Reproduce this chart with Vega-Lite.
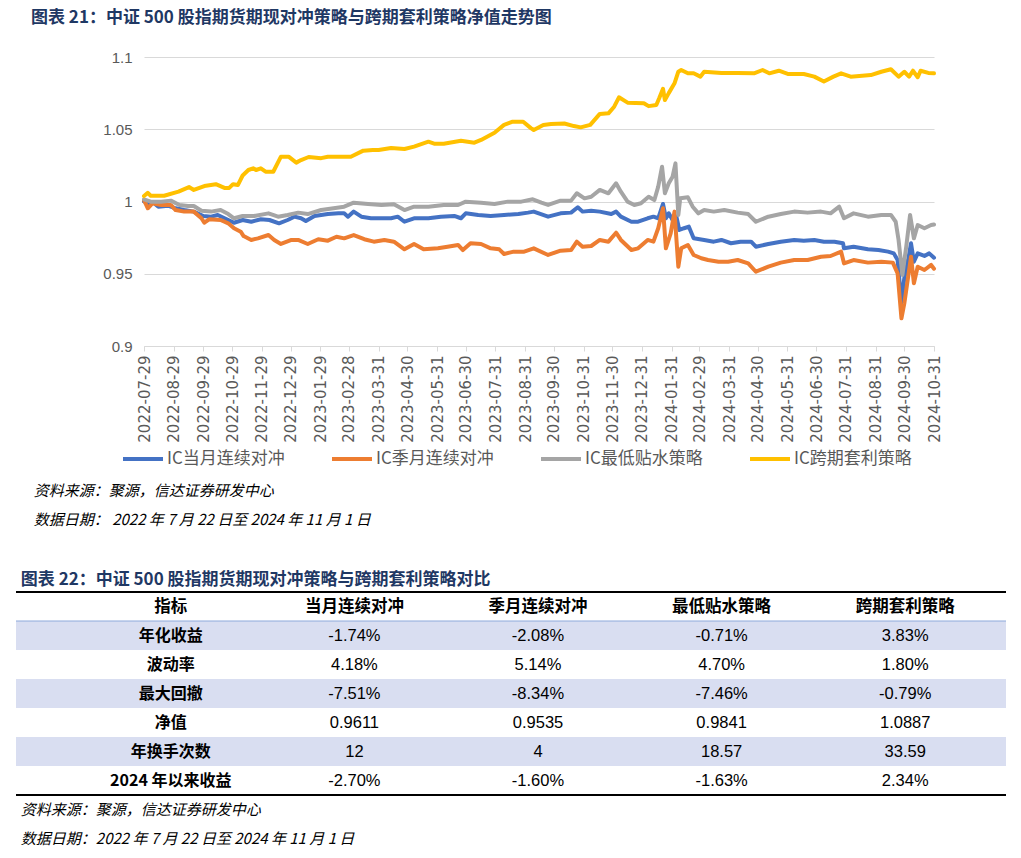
{
  "$schema": "https://vega.github.io/schema/vega-lite/v6.json",
  "padding": {"left": 15, "top": 9, "right": 5, "bottom": 0},
  "background": "white",
  "spacing": 33,
  "config": {"view": {"stroke": null}, "font": "Noto Sans CJK SC"},
  "datasets": {
    "lines": [
      {"date":"2022-07-29","series":"IC当月连续对冲","nav":1.0},
      {"date":"2022-08-02","series":"IC当月连续对冲","nav":0.9988},
      {"date":"2022-08-08","series":"IC当月连续对冲","nav":0.9992},
      {"date":"2022-08-13","series":"IC当月连续对冲","nav":0.9964},
      {"date":"2022-08-23","series":"IC当月连续对冲","nav":0.9971},
      {"date":"2022-08-31","series":"IC当月连续对冲","nav":0.9953},
      {"date":"2022-09-09","series":"IC当月连续对冲","nav":0.9941},
      {"date":"2022-09-19","series":"IC当月连续对冲","nav":0.993},
      {"date":"2022-09-29","series":"IC当月连续对冲","nav":0.990},
      {"date":"2022-10-07","series":"IC当月连续对冲","nav":0.9895},
      {"date":"2022-10-14","series":"IC当月连续对冲","nav":0.9907},
      {"date":"2022-10-25","series":"IC当月连续对冲","nav":0.9872},
      {"date":"2022-10-31","series":"IC当月连续对冲","nav":0.9853},
      {"date":"2022-11-09","series":"IC当月连续对冲","nav":0.9872},
      {"date":"2022-11-18","series":"IC当月连续对冲","nav":0.986},
      {"date":"2022-11-28","series":"IC当月连续对冲","nav":0.9877},
      {"date":"2022-12-07","series":"IC当月连续对冲","nav":0.9872},
      {"date":"2022-12-17","series":"IC当月连续对冲","nav":0.9849},
      {"date":"2022-12-26","series":"IC当月连续对冲","nav":0.9872},
      {"date":"2023-01-02","series":"IC当月连续对冲","nav":0.9895},
      {"date":"2023-01-09","series":"IC当月连续对冲","nav":0.9884},
      {"date":"2023-01-14","series":"IC当月连续对冲","nav":0.9865},
      {"date":"2023-01-23","series":"IC当月连续对冲","nav":0.990},
      {"date":"2023-02-06","series":"IC当月连续对冲","nav":0.9913},
      {"date":"2023-02-17","series":"IC当月连续对冲","nav":0.9918},
      {"date":"2023-02-23","series":"IC当月连续对冲","nav":0.9918},
      {"date":"2023-02-27","series":"IC当月连续对冲","nav":0.9895},
      {"date":"2023-03-05","series":"IC当月连续对冲","nav":0.993},
      {"date":"2023-03-13","series":"IC当月连续对冲","nav":0.9895},
      {"date":"2023-03-23","series":"IC当月连续对冲","nav":0.9884},
      {"date":"2023-04-03","series":"IC当月连续对冲","nav":0.9884},
      {"date":"2023-04-13","series":"IC当月连续对冲","nav":0.9884},
      {"date":"2023-04-20","series":"IC当月连续对冲","nav":0.9895},
      {"date":"2023-04-27","series":"IC当月连续对冲","nav":0.986},
      {"date":"2023-05-07","series":"IC当月连续对冲","nav":0.9884},
      {"date":"2023-05-22","series":"IC当月连续对冲","nav":0.9884},
      {"date":"2023-06-04","series":"IC当月连续对冲","nav":0.9895},
      {"date":"2023-06-18","series":"IC当月连续对冲","nav":0.990},
      {"date":"2023-06-25","series":"IC当月连续对冲","nav":0.9884},
      {"date":"2023-06-30","series":"IC当月连续对冲","nav":0.9918},
      {"date":"2023-07-13","series":"IC当月连续对冲","nav":0.9907},
      {"date":"2023-07-26","series":"IC当月连续对冲","nav":0.990},
      {"date":"2023-08-09","series":"IC当月连续对冲","nav":0.9907},
      {"date":"2023-08-24","series":"IC当月连续对冲","nav":0.9913},
      {"date":"2023-09-03","series":"IC当月连续对冲","nav":0.9923},
      {"date":"2023-09-09","series":"IC当月连续对冲","nav":0.993},
      {"date":"2023-09-24","series":"IC当月连续对冲","nav":0.9895},
      {"date":"2023-10-07","series":"IC当月连续对冲","nav":0.9918},
      {"date":"2023-10-18","series":"IC当月连续对冲","nav":0.9923},
      {"date":"2023-10-25","series":"IC当月连续对冲","nav":0.996},
      {"date":"2023-10-30","series":"IC当月连续对冲","nav":0.993},
      {"date":"2023-11-08","series":"IC当月连续对冲","nav":0.9936},
      {"date":"2023-11-17","series":"IC当月连续对冲","nav":0.993},
      {"date":"2023-11-29","series":"IC当月连续对冲","nav":0.9913},
      {"date":"2023-12-04","series":"IC当月连续对冲","nav":0.993},
      {"date":"2023-12-09","series":"IC当月连续对冲","nav":0.9895},
      {"date":"2023-12-20","series":"IC当月连续对冲","nav":0.986},
      {"date":"2023-12-27","series":"IC当月连续对冲","nav":0.986},
      {"date":"2024-01-06","series":"IC当月连续对冲","nav":0.9884},
      {"date":"2024-01-12","series":"IC当月连续对冲","nav":0.9895},
      {"date":"2024-01-17","series":"IC当月连续对冲","nav":0.9884},
      {"date":"2024-01-22","series":"IC当月连续对冲","nav":0.9983},
      {"date":"2024-01-25","series":"IC当月连续对冲","nav":0.9884},
      {"date":"2024-01-28","series":"IC当月连续对冲","nav":0.9918},
      {"date":"2024-02-01","series":"IC当月连续对冲","nav":0.9872},
      {"date":"2024-02-05","series":"IC当月连续对冲","nav":0.9895},
      {"date":"2024-02-08","series":"IC当月连续对冲","nav":0.9803},
      {"date":"2024-02-13","series":"IC当月连续对冲","nav":0.9815},
      {"date":"2024-02-18","series":"IC当月连续对冲","nav":0.9826},
      {"date":"2024-02-23","series":"IC当月连续对冲","nav":0.9745},
      {"date":"2024-03-05","series":"IC当月连续对冲","nav":0.9734},
      {"date":"2024-03-15","series":"IC当月连续对冲","nav":0.9722},
      {"date":"2024-03-23","series":"IC当月连续对冲","nav":0.9734},
      {"date":"2024-04-02","series":"IC当月连续对冲","nav":0.9711},
      {"date":"2024-04-12","series":"IC当月连续对冲","nav":0.9722},
      {"date":"2024-04-23","series":"IC当月连续对冲","nav":0.9722},
      {"date":"2024-04-28","series":"IC当月连续对冲","nav":0.9687},
      {"date":"2024-05-11","series":"IC当月连续对冲","nav":0.9706},
      {"date":"2024-05-24","series":"IC当月连续对冲","nav":0.9722},
      {"date":"2024-06-07","series":"IC当月连续对冲","nav":0.9734},
      {"date":"2024-06-17","series":"IC当月连续对冲","nav":0.9729},
      {"date":"2024-06-28","series":"IC当月连续对冲","nav":0.9734},
      {"date":"2024-07-08","series":"IC当月连续对冲","nav":0.9722},
      {"date":"2024-07-19","series":"IC当月连续对冲","nav":0.9722},
      {"date":"2024-07-28","series":"IC当月连续对冲","nav":0.9711},
      {"date":"2024-07-29","series":"IC当月连续对冲","nav":0.9676},
      {"date":"2024-08-08","series":"IC当月连续对冲","nav":0.9687},
      {"date":"2024-08-23","series":"IC当月连续对冲","nav":0.9669},
      {"date":"2024-09-03","series":"IC当月连续对冲","nav":0.9664},
      {"date":"2024-09-13","series":"IC当月连续对冲","nav":0.9653},
      {"date":"2024-09-19","series":"IC当月连续对冲","nav":0.9641},
      {"date":"2024-09-23","series":"IC当月连续对冲","nav":0.9595},
      {"date":"2024-09-27","series":"IC当月连续对冲","nav":0.930},
      {"date":"2024-09-30","series":"IC当月连续对冲","nav":0.947},
      {"date":"2024-10-04","series":"IC当月连续对冲","nav":0.9595},
      {"date":"2024-10-07","series":"IC当月连续对冲","nav":0.9711},
      {"date":"2024-10-10","series":"IC当月连续对冲","nav":0.9583},
      {"date":"2024-10-14","series":"IC当月连续对冲","nav":0.9641},
      {"date":"2024-10-21","series":"IC当月连续对冲","nav":0.9623},
      {"date":"2024-10-26","series":"IC当月连续对冲","nav":0.9641},
      {"date":"2024-10-31","series":"IC当月连续对冲","nav":0.9611},

      {"date":"2022-07-29","series":"IC季月连续对冲","nav":1.001},
      {"date":"2022-08-02","series":"IC季月连续对冲","nav":0.9953},
      {"date":"2022-08-07","series":"IC季月连续对冲","nav":0.9988},
      {"date":"2022-08-16","series":"IC季月连续对冲","nav":0.9976},
      {"date":"2022-08-26","series":"IC季月连续对冲","nav":0.9976},
      {"date":"2022-08-31","series":"IC季月连续对冲","nav":0.9941},
      {"date":"2022-09-09","series":"IC季月连续对冲","nav":0.993},
      {"date":"2022-09-19","series":"IC季月连续对冲","nav":0.993},
      {"date":"2022-09-27","series":"IC季月连续对冲","nav":0.9884},
      {"date":"2022-09-30","series":"IC季月连续对冲","nav":0.9853},
      {"date":"2022-10-05","series":"IC季月连续对冲","nav":0.9877},
      {"date":"2022-10-17","series":"IC季月连续对冲","nav":0.9872},
      {"date":"2022-10-25","series":"IC季月连续对冲","nav":0.9849},
      {"date":"2022-10-31","series":"IC季月连续对冲","nav":0.9815},
      {"date":"2022-11-07","series":"IC季月连续对冲","nav":0.9791},
      {"date":"2022-11-10","series":"IC季月连续对冲","nav":0.9761},
      {"date":"2022-11-18","series":"IC季月连续对冲","nav":0.9734},
      {"date":"2022-11-25","series":"IC季月连续对冲","nav":0.9745},
      {"date":"2022-12-06","series":"IC季月连续对冲","nav":0.9768},
      {"date":"2022-12-12","series":"IC季月连续对冲","nav":0.9734},
      {"date":"2022-12-19","series":"IC季月连续对冲","nav":0.9706},
      {"date":"2022-12-30","series":"IC季月连续对冲","nav":0.9734},
      {"date":"2023-01-06","series":"IC季月连续对冲","nav":0.9734},
      {"date":"2023-01-16","series":"IC季月连续对冲","nav":0.9706},
      {"date":"2023-01-27","series":"IC季月连续对冲","nav":0.9739},
      {"date":"2023-02-06","series":"IC季月连续对冲","nav":0.9729},
      {"date":"2023-02-15","series":"IC季月连续对冲","nav":0.9756},
      {"date":"2023-02-23","series":"IC季月连续对冲","nav":0.9745},
      {"date":"2023-03-05","series":"IC季月连续对冲","nav":0.9768},
      {"date":"2023-03-16","series":"IC季月连续对冲","nav":0.9739},
      {"date":"2023-03-26","series":"IC季月连续对冲","nav":0.9722},
      {"date":"2023-04-06","series":"IC季月连续对冲","nav":0.9734},
      {"date":"2023-04-16","series":"IC季月连续对冲","nav":0.9722},
      {"date":"2023-04-27","series":"IC季月连续对冲","nav":0.9669},
      {"date":"2023-05-07","series":"IC季月连续对冲","nav":0.9706},
      {"date":"2023-05-17","series":"IC季月连续对冲","nav":0.9669},
      {"date":"2023-06-01","series":"IC季月连续对冲","nav":0.9676},
      {"date":"2023-06-11","series":"IC季月连续对冲","nav":0.9687},
      {"date":"2023-06-22","series":"IC季月连续对冲","nav":0.9699},
      {"date":"2023-06-27","series":"IC季月连续对冲","nav":0.9664},
      {"date":"2023-07-05","series":"IC季月连续对冲","nav":0.9711},
      {"date":"2023-07-16","series":"IC季月连续对冲","nav":0.9706},
      {"date":"2023-07-26","series":"IC季月连续对冲","nav":0.9676},
      {"date":"2023-08-04","series":"IC季月连续对冲","nav":0.9669},
      {"date":"2023-08-09","series":"IC季月连续对冲","nav":0.9637},
      {"date":"2023-08-19","series":"IC季月连续对冲","nav":0.9653},
      {"date":"2023-08-30","series":"IC季月连续对冲","nav":0.9653},
      {"date":"2023-09-09","series":"IC季月连续对冲","nav":0.9676},
      {"date":"2023-09-24","series":"IC季月连续对冲","nav":0.963},
      {"date":"2023-10-07","series":"IC季月连续对冲","nav":0.966},
      {"date":"2023-10-18","series":"IC季月连续对冲","nav":0.9664},
      {"date":"2023-10-24","series":"IC季月连续对冲","nav":0.9722},
      {"date":"2023-10-30","series":"IC季月连续对冲","nav":0.9687},
      {"date":"2023-11-08","series":"IC季月连续对冲","nav":0.9692},
      {"date":"2023-11-17","series":"IC季月连续对冲","nav":0.9734},
      {"date":"2023-11-26","series":"IC季月连续对冲","nav":0.9722},
      {"date":"2023-12-04","series":"IC季月连续对冲","nav":0.9784},
      {"date":"2023-12-09","series":"IC季月连续对冲","nav":0.9734},
      {"date":"2023-12-20","series":"IC季月连续对冲","nav":0.9664},
      {"date":"2023-12-27","series":"IC季月连续对冲","nav":0.9676},
      {"date":"2024-01-06","series":"IC季月连续对冲","nav":0.9734},
      {"date":"2024-01-12","series":"IC季月连续对冲","nav":0.9722},
      {"date":"2024-01-17","series":"IC季月连续对冲","nav":0.9815},
      {"date":"2024-01-22","series":"IC季月连续对冲","nav":0.9953},
      {"date":"2024-01-25","series":"IC季月连续对冲","nav":0.9676},
      {"date":"2024-01-30","series":"IC季月连续对冲","nav":0.978},
      {"date":"2024-02-03","series":"IC季月连续对冲","nav":0.993},
      {"date":"2024-02-07","series":"IC季月连续对冲","nav":0.9549},
      {"date":"2024-02-10","series":"IC季月连续对冲","nav":0.9676},
      {"date":"2024-02-17","series":"IC季月连续对冲","nav":0.9699},
      {"date":"2024-02-23","series":"IC季月连续对冲","nav":0.963},
      {"date":"2024-03-02","series":"IC季月连续对冲","nav":0.9607},
      {"date":"2024-03-09","series":"IC季月连续对冲","nav":0.9595},
      {"date":"2024-03-20","series":"IC季月连续对冲","nav":0.9583},
      {"date":"2024-03-30","series":"IC季月连续对冲","nav":0.9583},
      {"date":"2024-04-09","series":"IC季月连续对冲","nav":0.9595},
      {"date":"2024-04-20","series":"IC季月连续对冲","nav":0.9572},
      {"date":"2024-04-28","series":"IC季月连续对冲","nav":0.9514},
      {"date":"2024-05-11","series":"IC季月连续对冲","nav":0.9549},
      {"date":"2024-05-24","series":"IC季月连续对冲","nav":0.9577},
      {"date":"2024-06-07","series":"IC季月连续对冲","nav":0.9595},
      {"date":"2024-06-21","series":"IC季月连续对冲","nav":0.9595},
      {"date":"2024-07-05","series":"IC季月连续对冲","nav":0.9618},
      {"date":"2024-07-15","series":"IC季月连续对冲","nav":0.9623},
      {"date":"2024-07-26","series":"IC季月连续对冲","nav":0.9653},
      {"date":"2024-07-29","series":"IC季月连续对冲","nav":0.9572},
      {"date":"2024-08-08","series":"IC季月连续对冲","nav":0.9595},
      {"date":"2024-08-23","series":"IC季月连续对冲","nav":0.9577},
      {"date":"2024-09-06","series":"IC季月连续对冲","nav":0.9583},
      {"date":"2024-09-18","series":"IC季月连续对冲","nav":0.9577},
      {"date":"2024-09-23","series":"IC季月连续对冲","nav":0.9503},
      {"date":"2024-09-27","series":"IC季月连续对冲","nav":0.9192},
      {"date":"2024-09-30","series":"IC季月连续对冲","nav":0.9295},
      {"date":"2024-10-07","series":"IC季月连续对冲","nav":0.9618},
      {"date":"2024-10-10","series":"IC季月连续对冲","nav":0.9434},
      {"date":"2024-10-14","series":"IC季月连续对冲","nav":0.9549},
      {"date":"2024-10-21","series":"IC季月连续对冲","nav":0.9526},
      {"date":"2024-10-28","series":"IC季月连续对冲","nav":0.9561},
      {"date":"2024-10-31","series":"IC季月连续对冲","nav":0.9535},

      {"date":"2022-07-29","series":"IC最低贴水策略","nav":1.0015},
      {"date":"2022-08-05","series":"IC最低贴水策略","nav":0.9999},
      {"date":"2022-08-16","series":"IC最低贴水策略","nav":0.9999},
      {"date":"2022-08-26","series":"IC最低贴水策略","nav":1.0006},
      {"date":"2022-09-04","series":"IC最低贴水策略","nav":0.9976},
      {"date":"2022-09-13","series":"IC最低贴水策略","nav":0.9969},
      {"date":"2022-09-19","series":"IC最低贴水策略","nav":0.9969},
      {"date":"2022-09-27","series":"IC最低贴水策略","nav":0.9936},
      {"date":"2022-10-07","series":"IC最低贴水策略","nav":0.993},
      {"date":"2022-10-17","series":"IC最低贴水策略","nav":0.9941},
      {"date":"2022-10-25","series":"IC最低贴水策略","nav":0.9913},
      {"date":"2022-10-31","series":"IC最低贴水策略","nav":0.9884},
      {"date":"2022-11-09","series":"IC最低贴水策略","nav":0.990},
      {"date":"2022-11-21","series":"IC最低贴水策略","nav":0.990},
      {"date":"2022-12-06","series":"IC最低贴水策略","nav":0.9918},
      {"date":"2022-12-16","series":"IC最低贴水策略","nav":0.9895},
      {"date":"2022-12-26","series":"IC最低贴水策略","nav":0.9907},
      {"date":"2023-01-06","series":"IC最低贴水策略","nav":0.9923},
      {"date":"2023-01-16","series":"IC最低贴水策略","nav":0.9913},
      {"date":"2023-01-30","series":"IC最低贴水策略","nav":0.9941},
      {"date":"2023-02-12","series":"IC最低贴水策略","nav":0.9953},
      {"date":"2023-02-23","series":"IC最低贴水策略","nav":0.9964},
      {"date":"2023-03-05","series":"IC最低贴水策略","nav":0.9992},
      {"date":"2023-03-20","series":"IC最低贴水策略","nav":0.9983},
      {"date":"2023-04-03","series":"IC最低贴水策略","nav":0.9976},
      {"date":"2023-04-16","series":"IC最低贴水策略","nav":0.9981},
      {"date":"2023-04-27","series":"IC最低贴水策略","nav":0.9941},
      {"date":"2023-05-07","series":"IC最低贴水策略","nav":0.9964},
      {"date":"2023-05-22","series":"IC最低贴水策略","nav":0.9964},
      {"date":"2023-06-07","series":"IC最低贴水策略","nav":0.9976},
      {"date":"2023-06-22","series":"IC最低贴水策略","nav":0.9976},
      {"date":"2023-06-30","series":"IC最低贴水策略","nav":0.9999},
      {"date":"2023-07-16","series":"IC最低贴水策略","nav":0.9992},
      {"date":"2023-07-30","series":"IC最低贴水策略","nav":0.9983},
      {"date":"2023-08-13","series":"IC最低贴水策略","nav":0.9999},
      {"date":"2023-08-27","series":"IC最低贴水策略","nav":0.9999},
      {"date":"2023-09-08","series":"IC最低贴水策略","nav":1.0015},
      {"date":"2023-09-17","series":"IC最低贴水策略","nav":0.9992},
      {"date":"2023-09-24","series":"IC最低贴水策略","nav":0.9976},
      {"date":"2023-10-07","series":"IC最低贴水策略","nav":1.0006},
      {"date":"2023-10-18","series":"IC最低贴水策略","nav":1.0006},
      {"date":"2023-10-24","series":"IC最低贴水策略","nav":1.0057},
      {"date":"2023-11-01","series":"IC最低贴水策略","nav":1.0022},
      {"date":"2023-11-08","series":"IC最低贴水策略","nav":1.0033},
      {"date":"2023-11-17","series":"IC最低贴水策略","nav":1.008},
      {"date":"2023-11-26","series":"IC最低贴水策略","nav":1.0057},
      {"date":"2023-12-04","series":"IC最低贴水策略","nav":1.0126},
      {"date":"2023-12-09","series":"IC最低贴水策略","nav":1.0068},
      {"date":"2023-12-16","series":"IC最低贴水策略","nav":0.9999},
      {"date":"2023-12-23","series":"IC最低贴水策略","nav":0.9976},
      {"date":"2023-12-30","series":"IC最低贴水策略","nav":0.9988},
      {"date":"2024-01-07","series":"IC最低贴水策略","nav":1.0033},
      {"date":"2024-01-13","series":"IC最低贴水策略","nav":1.001},
      {"date":"2024-01-17","series":"IC最低贴水策略","nav":1.0103},
      {"date":"2024-01-21","series":"IC最低贴水策略","nav":1.0241},
      {"date":"2024-01-24","series":"IC最低贴水策略","nav":1.0057},
      {"date":"2024-01-28","series":"IC最低贴水策略","nav":1.0126},
      {"date":"2024-02-01","series":"IC最低贴水策略","nav":1.0172},
      {"date":"2024-02-04","series":"IC最低贴水策略","nav":1.0264},
      {"date":"2024-02-07","series":"IC最低贴水策略","nav":0.9907},
      {"date":"2024-02-09","series":"IC最低贴水策略","nav":1.0022},
      {"date":"2024-02-17","series":"IC最低贴水策略","nav":1.0029},
      {"date":"2024-02-22","series":"IC最低贴水策略","nav":0.9964},
      {"date":"2024-02-28","series":"IC最低贴水策略","nav":0.9918},
      {"date":"2024-03-05","series":"IC最低贴水策略","nav":0.9941},
      {"date":"2024-03-15","series":"IC最低贴水策略","nav":0.993},
      {"date":"2024-03-26","series":"IC最低贴水策略","nav":0.9941},
      {"date":"2024-04-09","series":"IC最低贴水策略","nav":0.9923},
      {"date":"2024-04-20","series":"IC最低贴水策略","nav":0.9913},
      {"date":"2024-04-28","series":"IC最低贴水策略","nav":0.986},
      {"date":"2024-05-11","series":"IC最低贴水策略","nav":0.9895},
      {"date":"2024-05-24","series":"IC最低贴水策略","nav":0.9913},
      {"date":"2024-06-07","series":"IC最低贴水策略","nav":0.993},
      {"date":"2024-06-21","series":"IC最低贴水策略","nav":0.9923},
      {"date":"2024-07-05","series":"IC最低贴水策略","nav":0.993},
      {"date":"2024-07-15","series":"IC最低贴水策略","nav":0.9918},
      {"date":"2024-07-24","series":"IC最低贴水策略","nav":0.9964},
      {"date":"2024-07-29","series":"IC最低贴水策略","nav":0.9884},
      {"date":"2024-08-08","series":"IC最低贴水策略","nav":0.9918},
      {"date":"2024-08-23","series":"IC最低贴水策略","nav":0.9895},
      {"date":"2024-09-06","series":"IC最低贴水策略","nav":0.9907},
      {"date":"2024-09-16","series":"IC最低贴水策略","nav":0.9907},
      {"date":"2024-09-21","series":"IC最低贴水策略","nav":0.986},
      {"date":"2024-09-24","series":"IC最低贴水策略","nav":0.9734},
      {"date":"2024-09-28","series":"IC最低贴水策略","nav":0.9491},
      {"date":"2024-10-02","series":"IC最低贴水策略","nav":0.9687},
      {"date":"2024-10-06","series":"IC最低贴水策略","nav":0.9907},
      {"date":"2024-10-10","series":"IC最低贴水策略","nav":0.9745},
      {"date":"2024-10-14","series":"IC最低贴水策略","nav":0.9837},
      {"date":"2024-10-21","series":"IC最低贴水策略","nav":0.9815},
      {"date":"2024-10-28","series":"IC最低贴水策略","nav":0.9837},
      {"date":"2024-10-31","series":"IC最低贴水策略","nav":0.9841},

      {"date":"2022-07-29","series":"IC跨期套利策略","nav":1.0038},
      {"date":"2022-08-02","series":"IC跨期套利策略","nav":1.006},
      {"date":"2022-08-05","series":"IC跨期套利策略","nav":1.004},
      {"date":"2022-08-19","series":"IC跨期套利策略","nav":1.004},
      {"date":"2022-09-03","series":"IC跨期套利策略","nav":1.0068},
      {"date":"2022-09-14","series":"IC跨期套利策略","nav":1.010},
      {"date":"2022-09-19","series":"IC跨期套利策略","nav":1.008},
      {"date":"2022-09-30","series":"IC跨期套利策略","nav":1.0107},
      {"date":"2022-10-12","series":"IC跨期套利策略","nav":1.012},
      {"date":"2022-10-21","series":"IC跨期套利策略","nav":1.0094},
      {"date":"2022-10-26","series":"IC跨期套利策略","nav":1.0094},
      {"date":"2022-10-30","series":"IC跨期套利策略","nav":1.012},
      {"date":"2022-11-04","series":"IC跨期套利策略","nav":1.0114},
      {"date":"2022-11-09","series":"IC跨期套利策略","nav":1.018},
      {"date":"2022-11-15","series":"IC跨期套利策略","nav":1.0218},
      {"date":"2022-11-20","series":"IC跨期套利策略","nav":1.023},
      {"date":"2022-11-23","series":"IC跨期套利策略","nav":1.0218},
      {"date":"2022-11-28","series":"IC跨期套利策略","nav":1.023},
      {"date":"2022-12-03","series":"IC跨期套利策略","nav":1.0206},
      {"date":"2022-12-11","series":"IC跨期套利策略","nav":1.0206},
      {"date":"2022-12-19","series":"IC跨期套利策略","nav":1.031},
      {"date":"2022-12-27","series":"IC跨期套利策略","nav":1.031},
      {"date":"2023-01-04","series":"IC跨期套利策略","nav":1.0269},
      {"date":"2023-01-09","series":"IC跨期套利策略","nav":1.0287},
      {"date":"2023-01-17","series":"IC跨期套利策略","nav":1.0308},
      {"date":"2023-01-30","series":"IC跨期套利策略","nav":1.030},
      {"date":"2023-02-06","series":"IC跨期套利策略","nav":1.031},
      {"date":"2023-03-02","series":"IC跨期套利策略","nav":1.031},
      {"date":"2023-03-15","series":"IC跨期套利策略","nav":1.0352},
      {"date":"2023-03-25","series":"IC跨期套利策略","nav":1.0356},
      {"date":"2023-03-31","series":"IC跨期套利策略","nav":1.0356},
      {"date":"2023-04-13","series":"IC跨期套利策略","nav":1.037},
      {"date":"2023-04-27","series":"IC跨期套利策略","nav":1.0363},
      {"date":"2023-05-07","series":"IC跨期套利策略","nav":1.038},
      {"date":"2023-05-22","series":"IC跨期套利策略","nav":1.0414},
      {"date":"2023-05-28","series":"IC跨期套利策略","nav":1.040},
      {"date":"2023-06-07","series":"IC跨期套利策略","nav":1.040},
      {"date":"2023-06-25","series":"IC跨期套利策略","nav":1.042},
      {"date":"2023-07-09","series":"IC跨期套利策略","nav":1.0407},
      {"date":"2023-07-16","series":"IC跨期套利策略","nav":1.0426},
      {"date":"2023-07-30","series":"IC跨期套利策略","nav":1.0476},
      {"date":"2023-08-09","series":"IC跨期套利策略","nav":1.053},
      {"date":"2023-08-18","series":"IC跨期套利策略","nav":1.0552},
      {"date":"2023-08-29","series":"IC跨期套利策略","nav":1.0552},
      {"date":"2023-09-06","series":"IC跨期套利策略","nav":1.0508},
      {"date":"2023-09-09","series":"IC跨期套利策略","nav":1.0495},
      {"date":"2023-09-19","series":"IC跨期套利策略","nav":1.053},
      {"date":"2023-09-27","series":"IC跨期套利策略","nav":1.0536},
      {"date":"2023-10-11","series":"IC跨期套利策略","nav":1.054},
      {"date":"2023-10-21","series":"IC跨期套利策略","nav":1.0522},
      {"date":"2023-10-28","series":"IC跨期套利策略","nav":1.0513},
      {"date":"2023-11-07","series":"IC跨期套利策略","nav":1.053},
      {"date":"2023-11-17","series":"IC跨期套利策略","nav":1.0606},
      {"date":"2023-11-26","series":"IC跨期套利策略","nav":1.061},
      {"date":"2023-12-02","series":"IC跨期套利策略","nav":1.0656},
      {"date":"2023-12-07","series":"IC跨期套利策略","nav":1.0721},
      {"date":"2023-12-16","series":"IC跨期套利策略","nav":1.0684},
      {"date":"2024-01-02","series":"IC跨期套利策略","nav":1.068},
      {"date":"2024-01-07","series":"IC跨期套利策略","nav":1.066},
      {"date":"2024-01-15","series":"IC跨期套利策略","nav":1.0668},
      {"date":"2024-01-18","series":"IC跨期套利策略","nav":1.0714},
      {"date":"2024-01-22","series":"IC跨期套利策略","nav":1.078},
      {"date":"2024-01-24","series":"IC跨期套利策略","nav":1.0702},
      {"date":"2024-01-28","series":"IC跨期套利策略","nav":1.075},
      {"date":"2024-02-03","series":"IC跨期套利策略","nav":1.0818},
      {"date":"2024-02-07","series":"IC跨期套利策略","nav":1.0898},
      {"date":"2024-02-10","series":"IC跨期套利策略","nav":1.091},
      {"date":"2024-02-17","series":"IC跨期套利策略","nav":1.0887},
      {"date":"2024-02-23","series":"IC跨期套利策略","nav":1.0887},
      {"date":"2024-03-01","series":"IC跨期套利策略","nav":1.0864},
      {"date":"2024-03-05","series":"IC跨期套利策略","nav":1.0898},
      {"date":"2024-03-23","series":"IC跨期套利策略","nav":1.089},
      {"date":"2024-04-09","series":"IC跨期套利策略","nav":1.089},
      {"date":"2024-04-26","series":"IC跨期套利策略","nav":1.0887},
      {"date":"2024-05-05","series":"IC跨期套利策略","nav":1.091},
      {"date":"2024-05-12","series":"IC跨期套利策略","nav":1.0887},
      {"date":"2024-05-22","series":"IC跨期套利策略","nav":1.0905},
      {"date":"2024-06-01","series":"IC跨期套利策略","nav":1.0882},
      {"date":"2024-06-17","series":"IC跨期套利策略","nav":1.0882},
      {"date":"2024-06-28","series":"IC跨期套利策略","nav":1.0864},
      {"date":"2024-07-08","series":"IC跨期套利策略","nav":1.083},
      {"date":"2024-07-18","series":"IC跨期套利策略","nav":1.0864},
      {"date":"2024-07-26","series":"IC跨期套利策略","nav":1.0887},
      {"date":"2024-08-05","series":"IC跨期套利策略","nav":1.0864},
      {"date":"2024-08-26","series":"IC跨期套利策略","nav":1.0875},
      {"date":"2024-09-06","series":"IC跨期套利策略","nav":1.0898},
      {"date":"2024-09-16","series":"IC跨期套利策略","nav":1.0915},
      {"date":"2024-09-24","series":"IC跨期套利策略","nav":1.0864},
      {"date":"2024-09-30","series":"IC跨期套利策略","nav":1.0898},
      {"date":"2024-10-05","series":"IC跨期套利策略","nav":1.0864},
      {"date":"2024-10-09","series":"IC跨期套利策略","nav":1.0905},
      {"date":"2024-10-14","series":"IC跨期套利策略","nav":1.086},
      {"date":"2024-10-17","series":"IC跨期套利策略","nav":1.0905},
      {"date":"2024-10-25","series":"IC跨期套利策略","nav":1.089},
      {"date":"2024-10-31","series":"IC跨期套利策略","nav":1.0887}
    ],
    "table": [
      {"指标":"年化收益","策略":"当月连续对冲","值":"-1.74%"},
      {"指标":"年化收益","策略":"季月连续对冲","值":"-2.08%"},
      {"指标":"年化收益","策略":"最低贴水策略","值":"-0.71%"},
      {"指标":"年化收益","策略":"跨期套利策略","值":"3.83%"},
      {"指标":"波动率","策略":"当月连续对冲","值":"4.18%"},
      {"指标":"波动率","策略":"季月连续对冲","值":"5.14%"},
      {"指标":"波动率","策略":"最低贴水策略","值":"4.70%"},
      {"指标":"波动率","策略":"跨期套利策略","值":"1.80%"},
      {"指标":"最大回撤","策略":"当月连续对冲","值":"-7.51%"},
      {"指标":"最大回撤","策略":"季月连续对冲","值":"-8.34%"},
      {"指标":"最大回撤","策略":"最低贴水策略","值":"-7.46%"},
      {"指标":"最大回撤","策略":"跨期套利策略","值":"-0.79%"},
      {"指标":"净值","策略":"当月连续对冲","值":"0.9611"},
      {"指标":"净值","策略":"季月连续对冲","值":"0.9535"},
      {"指标":"净值","策略":"最低贴水策略","值":"0.9841"},
      {"指标":"净值","策略":"跨期套利策略","值":"1.0887"},
      {"指标":"年换手次数","策略":"当月连续对冲","值":"12"},
      {"指标":"年换手次数","策略":"季月连续对冲","值":"4"},
      {"指标":"年换手次数","策略":"最低贴水策略","值":"18.57"},
      {"指标":"年换手次数","策略":"跨期套利策略","值":"33.59"},
      {"指标":"2024 年以来收益","策略":"当月连续对冲","值":"-2.70%"},
      {"指标":"2024 年以来收益","策略":"季月连续对冲","值":"-1.60%"},
      {"指标":"2024 年以来收益","策略":"最低贴水策略","值":"-1.63%"},
      {"指标":"2024 年以来收益","策略":"跨期套利策略","值":"2.34%"}
    ],
    "header": [
      {"列":"指标"},{"列":"当月连续对冲"},{"列":"季月连续对冲"},{"列":"最低贴水策略"},{"列":"跨期套利策略"}
    ],
    "notes": [
      {"行":"资料来源·图21","文本":"资料来源：聚源，信达证券研发中心"},
      {"行":"数据日期·图21","文本":"数据日期： 2022 年 7 月 22 日至 2024 年 11 月 1 日"},
      {"行":"图表22","文本":"图表 22：中证 500 股指期货期现对冲策略与跨期套利策略对比"},
      {"行":"资料来源·表22","文本":"资料来源：聚源，信达证券研发中心"},
      {"行":"数据日期·表22","文本":"数据日期：2022 年 7 月 22 日至 2024 年 11 月 1 日"}
    ]
  },
  "vconcat": [
    {
      "width": 918,
      "height": 289,
      "title": {"text": "图表 21：中证 500 股指期货期现对冲策略与跨期套利策略净值走势图", "anchor": "start", "frame": "group", "dx": 15, "offset": 23, "fontSize": 17, "font": "Noto Sans CJK SC", "fontWeight": "bold", "color": "#1F3864"},
      "data": {"name": "lines"},
      "mark": {"type": "line", "strokeWidth": 4, "strokeJoin": "round", "strokeCap": "round"},
      "encoding": {
        "x": {
          "field": "date", "type": "temporal",
          "scale": {"type": "utc", "range": [128, 918], "domain": [{"year":2022,"month":7,"date":29,"utc":true},{"year":2024,"month":10,"date":31,"utc":true}]},
          "axis": {
            "title": null, "format": "%Y-%m-%d", "labelAngle": -90, "labelFont": "DejaVu Sans", "labelFontSize": 15, "labelColor": "#595959",
            "labelPadding": 4, "tickSize": 5, "tickColor": "#D9D9D9", "domainColor": "#D9D9D9", "grid": false, "labelOverlap": false, "labelFlush": false,
            "values": [
              {"year":2022,"month":7,"date":29,"utc":true},{"year":2022,"month":8,"date":29,"utc":true},{"year":2022,"month":9,"date":29,"utc":true},
              {"year":2022,"month":10,"date":29,"utc":true},{"year":2022,"month":11,"date":29,"utc":true},{"year":2022,"month":12,"date":29,"utc":true},
              {"year":2023,"month":1,"date":29,"utc":true},{"year":2023,"month":2,"date":28,"utc":true},{"year":2023,"month":3,"date":31,"utc":true},
              {"year":2023,"month":4,"date":30,"utc":true},{"year":2023,"month":5,"date":31,"utc":true},{"year":2023,"month":6,"date":30,"utc":true},
              {"year":2023,"month":7,"date":31,"utc":true},{"year":2023,"month":8,"date":31,"utc":true},{"year":2023,"month":9,"date":30,"utc":true},
              {"year":2023,"month":10,"date":31,"utc":true},{"year":2023,"month":11,"date":30,"utc":true},{"year":2023,"month":12,"date":31,"utc":true},
              {"year":2024,"month":1,"date":31,"utc":true},{"year":2024,"month":2,"date":29,"utc":true},{"year":2024,"month":3,"date":31,"utc":true},
              {"year":2024,"month":4,"date":30,"utc":true},{"year":2024,"month":5,"date":31,"utc":true},{"year":2024,"month":6,"date":30,"utc":true},
              {"year":2024,"month":7,"date":31,"utc":true},{"year":2024,"month":8,"date":31,"utc":true},{"year":2024,"month":9,"date":30,"utc":true},
              {"year":2024,"month":10,"date":31,"utc":true}
            ]
          }
        },
        "y": {
          "field": "nav", "type": "quantitative",
          "scale": {"domain": [0.9, 1.1], "zero": false, "nice": false},
          "axis": {"title": null, "values": [0.9, 0.95, 1, 1.05, 1.1], "format": "~g", "grid": true, "gridColor": "#D9D9D9", "domain": false, "ticks": false,
                   "offset": -128, "labelFont": "Liberation Sans", "labelFontSize": 15, "labelColor": "#595959", "labelPadding": 12}
        },
        "color": {
          "field": "series", "type": "nominal",
          "scale": {"domain": ["IC当月连续对冲", "IC季月连续对冲", "IC最低贴水策略", "IC跨期套利策略"], "range": ["#4472C4", "#ED7D31", "#A5A5A5", "#FFC000"]},
          "legend": {"title": null, "orient": "none", "legendX": 105, "legendY": 380, "direction": "horizontal", "columns": 4,
                     "symbolType": "stroke", "symbolSize": 1600, "symbolStrokeWidth": 4, "labelFontSize": 17, "labelColor": "#595959",
                     "labelFont": "Noto Sans CJK SC", "columnPadding": 39, "labelOffset": 2, "labelLimit": 300}
        }
      }
    },
    {
      "width": 990,
      "height": 377,
      "layer": [
        {
          "data": {"name": "table"},
          "transform": [{"aggregate": [], "groupby": ["指标"]}, {"filter": {"field": "指标", "oneOf": ["年化收益", "最大回撤", "年换手次数"]}}],
          "mark": {"type": "rect", "color": "#D9DEF1"},
          "encoding": {
            "y": {"field": "指标", "type": "nominal", "axis": null,
                  "scale": {"domain": ["资料来源·图21","数据日期·图21","间隔","图表22","表头","年化收益","波动率","最大回撤","净值","年换手次数","2024 年以来收益","资料来源·表22","数据日期·表22"], "paddingInner": 0, "paddingOuter": 0}}
          }
        },
        {
          "data": {"values": [{}]},
          "mark": {"type": "rule", "color": "#000000", "strokeWidth": 2},
          "encoding": {"y": {"datum": "表头", "type": "nominal", "bandPosition": 0}}
        },
        {
          "data": {"values": [{}]},
          "mark": {"type": "rule", "color": "#8EA9DB", "strokeWidth": 1},
          "encoding": {"y": {"datum": "年化收益", "type": "nominal", "bandPosition": 0}}
        },
        {
          "data": {"values": [{}]},
          "mark": {"type": "rule", "color": "#000000", "strokeWidth": 2},
          "encoding": {"y": {"datum": "资料来源·表22", "type": "nominal", "bandPosition": 0}}
        },
        {
          "data": {"name": "header"},
          "mark": {"type": "text", "font": "Noto Sans CJK SC", "fontWeight": "bold", "fontSize": 16.5, "color": "#000000"},
          "encoding": {
            "x": {"field": "列", "type": "nominal", "axis": null,
                  "scale": {"domain": ["指标","当月连续对冲","季月连续对冲","最低贴水策略","跨期套利策略"], "range": [63, 981], "paddingInner": 0, "paddingOuter": 0}},
            "y": {"datum": "表头", "type": "nominal"},
            "text": {"field": "列"}
          }
        },
        {
          "data": {"name": "table"},
          "transform": [{"aggregate": [], "groupby": ["指标"]}],
          "mark": {"type": "text", "font": "Noto Sans CJK SC", "fontWeight": "bold", "fontSize": 16, "color": "#000000"},
          "encoding": {
            "x": {"datum": "指标", "type": "nominal"},
            "y": {"field": "指标", "type": "nominal"},
            "text": {"field": "指标"}
          }
        },
        {
          "data": {"name": "table"},
          "mark": {"type": "text", "font": "Liberation Sans", "fontSize": 16.5, "color": "#000000"},
          "encoding": {
            "x": {"field": "策略", "type": "nominal"},
            "y": {"field": "指标", "type": "nominal"},
            "text": {"field": "值"}
          }
        },
        {
          "data": {"name": "notes"},
          "transform": [{"filter": {"field": "行", "oneOf": ["资料来源·图21", "数据日期·图21"]}}],
          "mark": {"type": "text", "align": "left", "dx": -137, "font": "Noto Sans CJK SC", "fontStyle": "italic", "fontSize": 15, "color": "#000000"},
          "encoding": {
            "x": {"datum": "指标", "type": "nominal"},
            "y": {"field": "行", "type": "nominal"},
            "text": {"field": "文本"}
          }
        },
        {
          "data": {"name": "notes"},
          "transform": [{"filter": {"field": "行", "oneOf": ["资料来源·表22", "数据日期·表22"]}}],
          "mark": {"type": "text", "align": "left", "dx": -150, "font": "Noto Sans CJK SC", "fontStyle": "italic", "fontSize": 15, "color": "#000000"},
          "encoding": {
            "x": {"datum": "指标", "type": "nominal"},
            "y": {"field": "行", "type": "nominal"},
            "text": {"field": "文本"}
          }
        },
        {
          "data": {"name": "notes"},
          "transform": [{"filter": {"field": "行", "equal": "图表22"}}],
          "mark": {"type": "text", "align": "left", "dx": -150, "dy": 2, "font": "Noto Sans CJK SC", "fontWeight": "bold", "fontSize": 17, "color": "#1F3864"},
          "encoding": {
            "x": {"datum": "指标", "type": "nominal"},
            "y": {"field": "行", "type": "nominal"},
            "text": {"field": "文本"}
          }
        }
      ]
    }
  ]
}
